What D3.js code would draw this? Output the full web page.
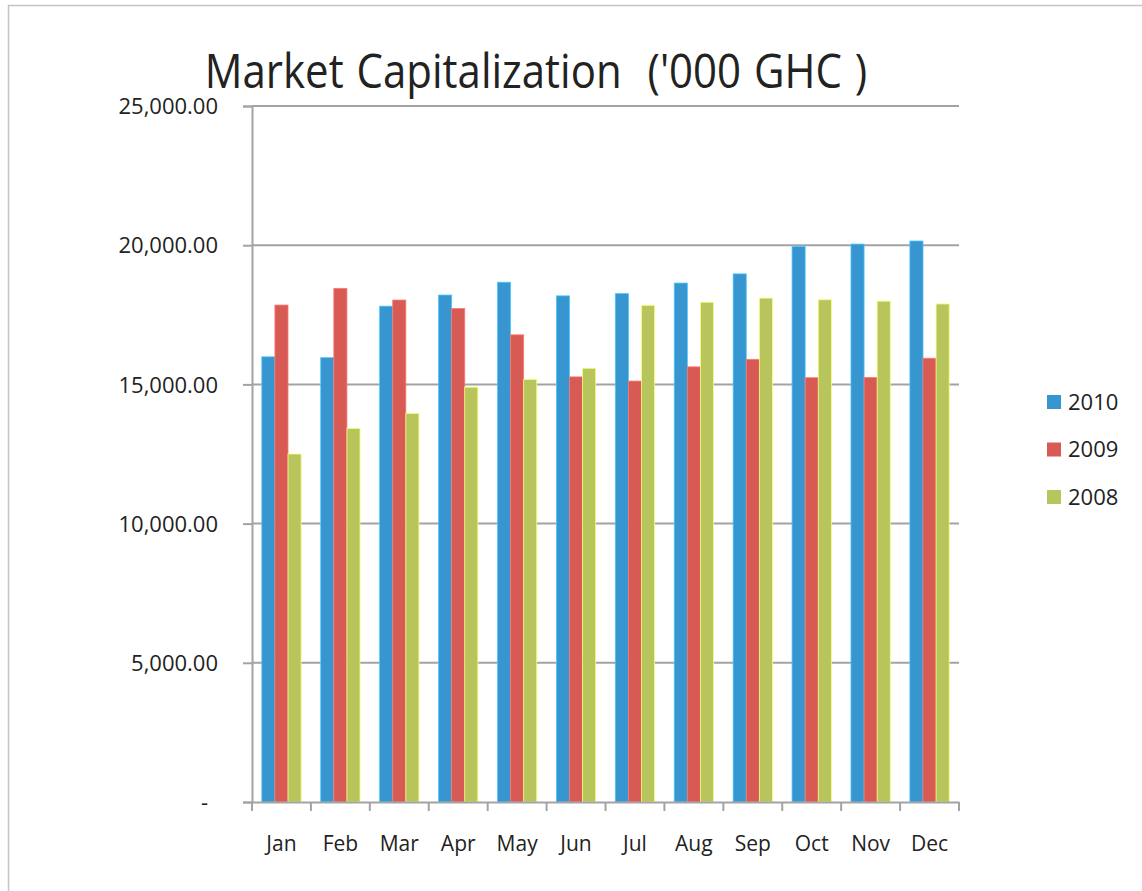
<!DOCTYPE html>
<html>
<head>
<meta charset="utf-8">
<script src="https://cdn.jsdelivr.net/npm/d3@7"></script>
<style>
  body { margin: 0; background: #fff; }
  svg text { font-family: "Open Sans", "Noto Sans", sans-serif; fill: #222; }
</style>
</head>
<body>
<div class="chart"></div>
<script>
// data
var months = ["Jan", "Feb", "Mar", "Apr", "May", "Jun", "Jul", "Aug", "Sep", "Oct", "Nov", "Dec"];
var seriesNames = ["2010", "2009", "2008"];
var v2010 = [15990, 15960, 17810, 18210, 18670, 18180, 18260, 18640, 18970, 19950, 20040, 20150];
var v2009 = [17850, 18450, 18030, 17730, 16780, 15270, 15120, 15630, 15900, 15240, 15250, 15940];
var v2008 = [12500, 13420, 13960, 14900, 15180, 15580, 17840, 17950, 18100, 18040, 17990, 17890];
var yTicks = [0, 5000, 10000, 15000, 20000, 25000];
var colors = ["#3795cf", "#d85a55", "#b8c55c"];

var W = 1142, H = 891;
var margin = {top: 106, right: 183, bottom: 89, left: 252},
    width = W - margin.left - margin.right,
    height = H - margin.top - margin.bottom;

var svg = d3.select(".chart").append("svg")
    .attr("width", W)
    .attr("height", H);

// outer frame (only top / left visible)
svg.append("path")
    .attr("d", "M8.5," + H + "V5.5H" + W)
    .attr("fill", "none")
    .attr("stroke", "#c4c4c4")
    .attr("stroke-width", 1.5);

svg.append("text")
    .attr("transform", "translate(536,88) scale(1,1.12)")
    .attr("text-anchor", "middle")
    .style("font-size", "42px")
    .style("word-spacing", "2px")
    .attr("xml:space", "preserve")
    .text("Market Capitalization  ('000 GHC )");

var g = svg.append("g")
    .attr("transform", "translate(" + margin.left + "," + margin.top + ")");

var x = d3.scaleBand().domain(months).range([0, width]);
var y = d3.scaleLinear().domain([0, 25000]).range([height, 0]);

var fmt = function(d) { return d === 0 ? "-" : d3.format(",.2f")(d); };

// gridlines
g.selectAll(".grid")
    .data(yTicks.filter(function(d) { return d > 0; }))
    .enter().append("line")
    .attr("x1", 0).attr("x2", width)
    .attr("y1", function(d) { return y(d); })
    .attr("y2", function(d) { return y(d); })
    .attr("stroke", "#a3a3a3")
    .attr("stroke-width", 2);

// y axis
var yAxis = g.append("g")
    .call(d3.axisLeft(y).tickValues(yTicks).tickFormat(fmt).tickSize(9).tickPadding(25));
yAxis.select(".domain").attr("stroke", "#a3a3a3").attr("stroke-width", 2);
yAxis.selectAll(".tick line").attr("stroke", "#a3a3a3").attr("stroke-width", 2);
yAxis.selectAll(".tick text")
    .style("font-size", "22px")
    .attr("dy", "0.35em")
    .attr("fill", "#222");
yAxis.selectAll(".tick text").filter(function(d) { return d === 0; }).attr("x", -44);

// bars
var series = [v2010, v2009, v2008];
var barW = x.bandwidth() / 4.5;
series.forEach(function(vals, si) {
  g.selectAll(".bar" + si)
      .data(vals)
      .enter().append("rect")
      .attr("x", function(d, i) { return x(months[i]) + barW * (0.75 + si); })
      .attr("y", function(d) { return y(d); })
      .attr("width", barW)
      .attr("height", function(d) { return height - y(d); })
      .attr("fill", colors[si])
      .attr("stroke", d3.color(colors[si]).brighter(0.8))
      .attr("stroke-width", 0.8);
});

// x axis
var xAxis = g.append("g")
    .attr("transform", "translate(0," + height + ")")
    .call(d3.axisBottom(x).tickSize(0).tickPadding(34));
xAxis.select(".domain").attr("stroke", "#a3a3a3").attr("stroke-width", 2);
xAxis.selectAll(".tick text").style("font-size", "21px").attr("fill", "#222");
xAxis.selectAll(".xtick")
    .data(d3.range(months.length + 1))
    .enter().append("line")
    .attr("x1", function(d) { return d * x.step(); })
    .attr("x2", function(d) { return d * x.step(); })
    .attr("y1", 0).attr("y2", 9)
    .attr("stroke", "#a3a3a3")
    .attr("stroke-width", 2);

// legend
var legend = svg.selectAll(".legend")
    .data(seriesNames)
    .enter().append("g")
    .attr("transform", function(d, i) { return "translate(1047," + (402 + i * 47.5) + ")"; });
legend.append("rect")
    .attr("x", 0).attr("y", -7)
    .attr("width", 14).attr("height", 14)
    .attr("fill", function(d, i) { return colors[i]; });
legend.append("text")
    .attr("x", 21)
    .attr("dy", "0.36em")
    .style("font-size", "22px")
    .text(function(d) { return d; });
</script>
</body>
</html>
